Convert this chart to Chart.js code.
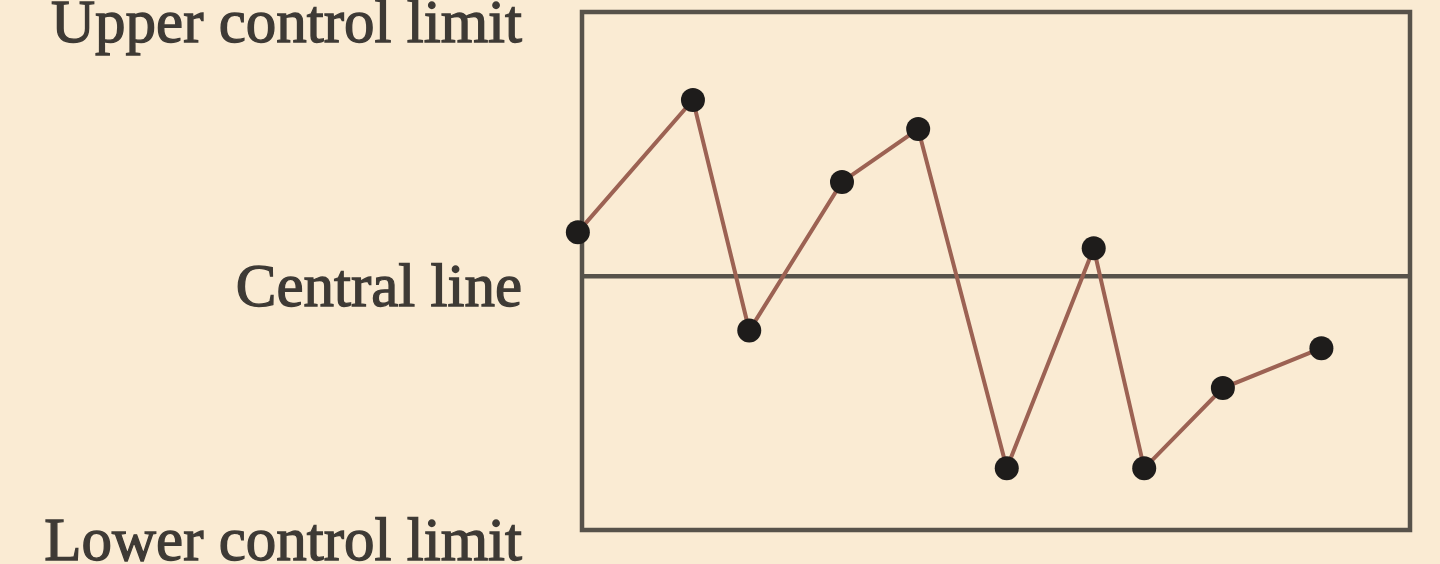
<!DOCTYPE html>
<html>
<head>
<meta charset="utf-8">
<script src="https://cdn.jsdelivr.net/npm/chart.js@4.4.0/dist/chart.umd.min.js"></script>
<style>
  html, body { margin: 0; padding: 0; background: #faebd3; }
  #wrap { width: 1440px; height: 564px; }
</style>
</head>
<body>
<div id="wrap"><canvas id="chart"></canvas></div>
<script>
// Sample positions (0 = left edge of the box, 100 = right edge)
const sampleX = [-0.5, 13.4, 20.2, 31.4, 40.6, 51.3, 61.8, 67.9, 77.4, 89.3];
// Sample values (0 = lower control limit, 100 = upper control limit)
const sampleY = [57.5, 83, 38.5, 67.2, 77.4, 11.9, 54.4, 11.9, 27.4, 35.1];

const limitValues = [0, 49, 100];
const limitLabels = ['Lower control limit', 'Central line', 'Upper control limit'];
const centralLine = 49;

const bgPlugin = {
    id: 'bg',
    beforeDraw(chart) {
        const ctx = chart.ctx;
        ctx.save();
        ctx.fillStyle = '#faebd3';
        ctx.fillRect(0, 0, chart.width, chart.height);
        ctx.restore();
    }
};

// box round the plot (drawn under the data) + the limit labels on the left
const boxPlugin = {
    id: 'box',
    beforeDatasetsDraw(chart) {
        const ctx = chart.ctx;
        const a = chart.chartArea;
        const y = chart.scales.y;
        ctx.save();
        ctx.strokeStyle = '#57524a';
        ctx.lineWidth = 4.5;
        ctx.strokeRect(a.left, a.top, a.right - a.left, a.bottom - a.top);
        ctx.fillStyle = '#3e3a35';
        ctx.strokeStyle = '#3e3a35';
        ctx.lineWidth = 1.3;
        ctx.font = '61px "Liberation Serif", serif';
        ctx.textAlign = 'right';
        ctx.textBaseline = 'alphabetic';
        limitValues.forEach((v, i) => {
            const py = y.getPixelForValue(v) + 30;
            ctx.fillText(limitLabels[i], a.left - 60, py);
            ctx.strokeText(limitLabels[i], a.left - 60, py);
        });
        ctx.restore();
    }
};

const points = sampleX.map((x, i) => ({ x: x, y: sampleY[i] }));

new Chart(document.getElementById('chart'), {
    type: 'line',
    data: {
        datasets: [{
            data: [{ x: 0, y: centralLine }, { x: 100, y: centralLine }],
            borderColor: '#57524a',
            borderWidth: 4.5,
            pointRadius: 0,
            order: 2
        }, {
            data: points,
            borderColor: '#9c6253',
            borderWidth: 4,
            pointRadius: 12,
            pointBackgroundColor: '#1e1c1b',
            pointBorderWidth: 0,
            tension: 0,
            clip: false,
            order: 1
        }]
    },
    options: {
        responsive: true,
        maintainAspectRatio: false,
        animation: false,
        layout: { padding: { left: 582, right: 30, top: 8, bottom: 34 } },
        plugins: { legend: { display: false }, tooltip: { enabled: false } },
        scales: {
            x: { type: 'linear', min: 0, max: 100, display: false },
            y: { min: 0, max: 100, display: false }
        }
    },
    plugins: [bgPlugin, boxPlugin]
});
</script>
</body>
</html>
